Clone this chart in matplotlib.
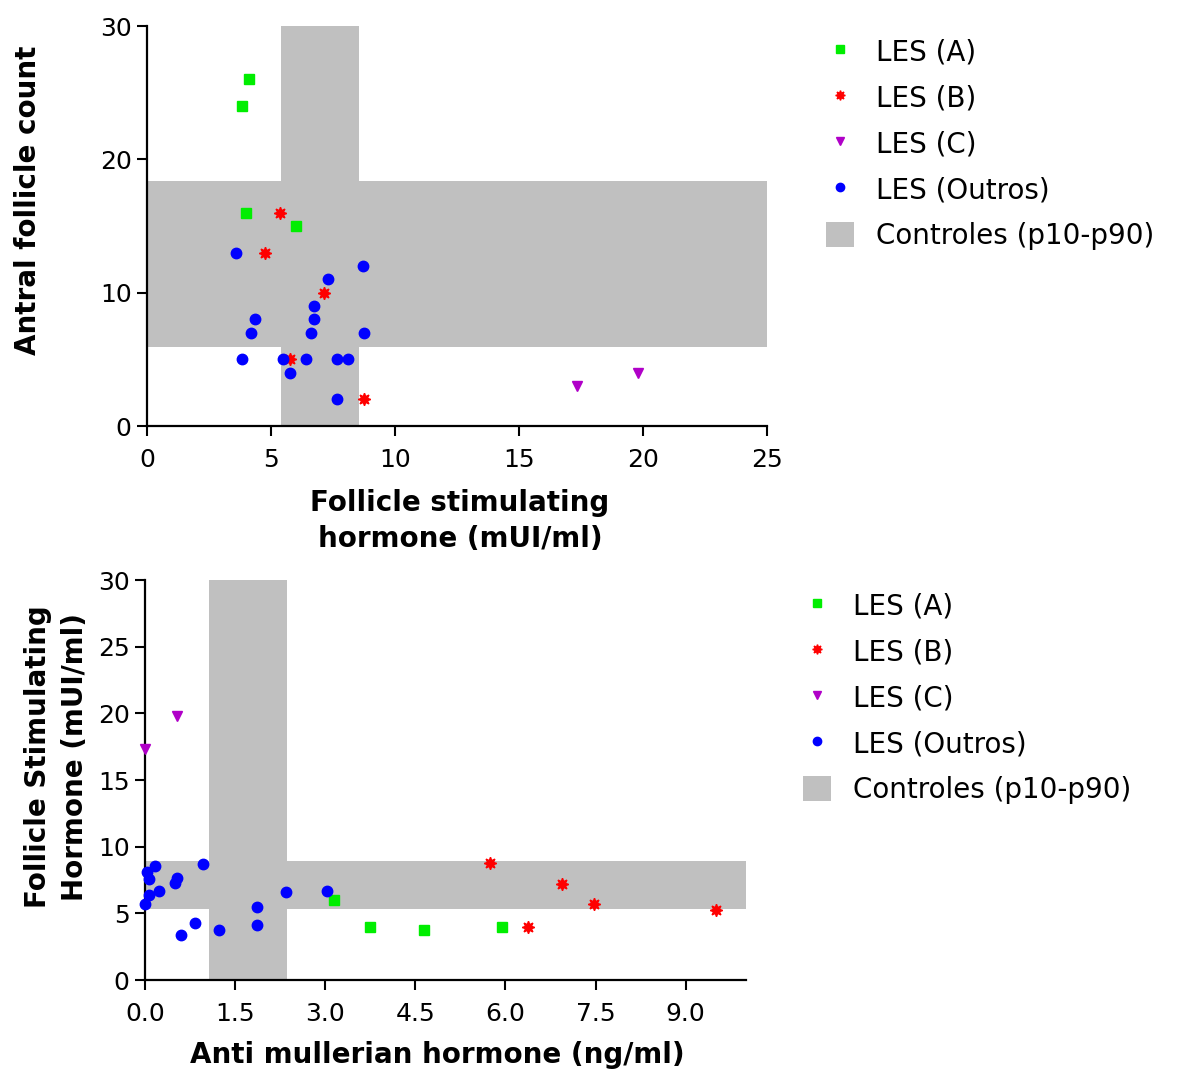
import matplotlib
matplotlib.use('Agg')
import matplotlib.pyplot as plt
from matplotlib.patches import Patch
from matplotlib.lines import Line2D

# top panel: FSH (x) vs antral follicle count (y)
fsh_a = [4.1, 3.85, 4.0, 6.0]
afc_a = [26, 24, 16, 15]
fsh_b = [5.35, 4.75, 7.15, 5.75, 8.75]
afc_b = [16, 13, 10, 5, 2]
fsh_c = [17.35, 19.8]
afc_c = [3, 4]
fsh_o = [3.6, 8.7, 7.3, 6.75, 6.75, 4.35, 4.2, 6.6, 8.75, 3.85, 5.5, 6.4, 7.65, 8.1, 5.75, 7.65]
afc_o = [13, 12, 11, 9, 8, 8, 7, 7, 7, 5, 5, 5, 5, 5, 4, 2]
# controls p10-p90
fsh_ctrl = [5.4, 8.55]
afc_ctrl = [5.9, 18.4]

# bottom panel: AMH (x) vs FSH (y)
amh_a = [3.15, 3.75, 4.65, 5.95]
fsh2_a = [6.0, 4.0, 3.75, 4.0]
amh_b = [5.75, 6.95, 7.48, 9.5, 6.38]
fsh2_b = [8.8, 7.2, 5.7, 5.25, 4.0]
amh_c = [0.0, 0.53]
fsh2_c = [17.3, 19.8]
amh_o = [0.0, 0.04, 0.07, 0.07, 0.17, 0.23, 0.5, 0.53, 0.97, 0.6, 0.84, 1.24, 1.87, 1.87, 2.34, 3.03]
fsh2_o = [5.7, 8.1, 7.6, 6.4, 8.55, 6.7, 7.3, 7.65, 8.7, 3.4, 4.3, 3.75, 5.5, 4.15, 6.6, 6.7]
amh_ctrl = [1.06, 2.36]
fsh2_ctrl = [5.3, 8.9]

labels = ['LES (A)', 'LES (B)', 'LES (C)', 'LES (Outros)', 'Controles (p10-p90)']
green = '#00ee00'
red = '#ff0000'
purple = '#b000c8'
blue = '#0000ff'
gray = '#c0c0c0'

fig = plt.figure(figsize=(11.92, 10.72), dpi=100)
ax1 = fig.add_axes([0.1233, 0.6026, 0.520, 0.373])
ax2 = fig.add_axes([0.1216, 0.0858, 0.504, 0.373])


def draw_panel(ax, xa, ya, xb, yb, xc, yc, xo, yo, xctrl, yctrl, xmax):
    # grey bands for the controls
    ax.axvspan(xctrl[0], xctrl[1], color=gray, lw=0, zorder=0)
    ax.axhspan(yctrl[0], yctrl[1], color=gray, lw=0, zorder=0)
    ax.plot(xa, ya, 's', color=green, ms=7.5, mec=green, clip_on=False, zorder=3)
    ax.plot(xb, yb, marker=(8, 1, 0), ls='none', color=red, ms=9, mec=red, clip_on=False, zorder=3)
    ax.plot(xc, yc, 'v', color=purple, ms=7.5, mec=purple, clip_on=False, zorder=3)
    ax.plot(xo, yo, 'o', color=blue, ms=7.5, mec=blue, clip_on=False, zorder=3)
    ax.set_xlim(0, xmax)
    ax.set_ylim(0, 30)
    ax.spines['top'].set_visible(False)
    ax.spines['right'].set_visible(False)
    ax.spines['left'].set_linewidth(1.6)
    ax.spines['bottom'].set_linewidth(1.6)
    ax.tick_params(direction='out', length=7, width=1.5, labelsize=18)
    ax.tick_params(axis='x', pad=9)
    ax.tick_params(axis='y', pad=4)


draw_panel(ax1, fsh_a, afc_a, fsh_b, afc_b, fsh_c, afc_c, fsh_o, afc_o, fsh_ctrl, afc_ctrl, 25)
ax1.set_xticks([0, 5, 10, 15, 20, 25])
ax1.set_yticks([0, 10, 20, 30])
ax1.set_xlabel('Follicle stimulating\nhormone (mUI/ml)', fontsize=20, fontweight='bold',
               va='center', ha='center', linespacing=1.4)
ax1.xaxis.set_label_coords(0.505, -0.2375)
ax1.set_ylabel('Antral follicle count', fontsize=20, fontweight='bold', va='center', ha='center')
ax1.yaxis.set_label_coords(-0.192, 0.565)

draw_panel(ax2, amh_a, fsh2_a, amh_b, fsh2_b, amh_c, fsh2_c, amh_o, fsh2_o, amh_ctrl, fsh2_ctrl, 10)
xt = [0, 1.5, 3.0, 4.5, 6.0, 7.5, 9.0]
ax2.set_xticks(xt)
ax2.set_xticklabels(['%.1f' % v for v in xt])
ax2.set_yticks([0, 5, 10, 15, 20, 25, 30])
ax2.set_xlabel('Anti mullerian hormone (ng/ml)', fontsize=20, fontweight='bold', va='center', ha='center')
ax2.xaxis.set_label_coords(0.486, -0.1875)
ax2.set_ylabel('Follicle Stimulating\nHormone (mUI/ml)', fontsize=20, fontweight='bold',
               va='center', ha='center', linespacing=1.4)
ax2.yaxis.set_label_coords(-0.147, 0.5575)

#legends
handles = [
    Line2D([], [], ls='none', marker='s', color=green, ms=6),
    Line2D([], [], ls='none', marker=(8, 1, 0), color=red, ms=7),
    Line2D([], [], ls='none', marker='v', color=purple, ms=6),
    Line2D([], [], ls='none', marker='o', color=blue, ms=6),
    Patch(facecolor=gray, edgecolor='none'),
]
for ax, x0, y0 in [(ax1, 826 / 1192, 1 - 38 / 1072), (ax2, 803 / 1192, 1 - 592 / 1072)]:
    ax.legend(handles, labels, loc='upper left', bbox_to_anchor=(x0, y0),
              bbox_transform=fig.transFigure, frameon=False, fontsize=20,
              borderpad=0, borderaxespad=0, handlelength=1.0, handleheight=1.0,
              handletextpad=0.8, labelspacing=0.65)

plt.savefig('out.png', dpi=100)
